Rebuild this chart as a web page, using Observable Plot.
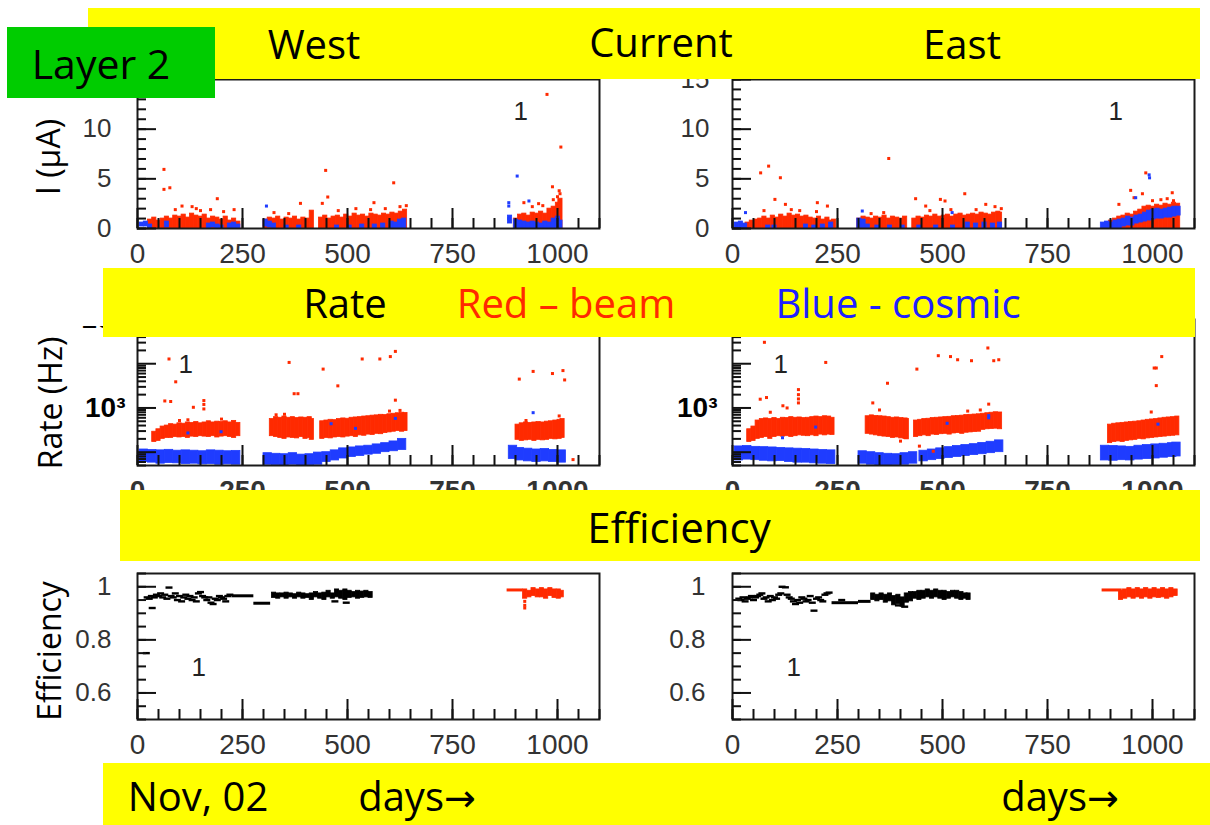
<!DOCTYPE html>
<html><head><meta charset="utf-8">
<script src="https://cdn.jsdelivr.net/npm/d3@7"></script>
<script src="https://cdn.jsdelivr.net/npm/@observablehq/plot@0.6"></script>
<style>
body{margin:0;background:#fff;}
#page{position:relative;width:1210px;height:825px;overflow:hidden;background:#fff;font-family:"Open Sans","Noto Sans",sans-serif;}
.banner{position:absolute;background:#ffff00;z-index:2;}
.t{position:absolute;transform:translate(-50%,-50%);white-space:nowrap;line-height:1;font-size:40px;color:#000;z-index:4;}
.arr{font-family:"DejaVu Sans",sans-serif;font-size:38px;}
.ylab{position:absolute;transform:translate(-50%,-50%) rotate(-90deg);white-space:nowrap;line-height:1;font-size:32px;color:#000;}
</style></head><body><div id="page">
<div class="banner" style="left:88px;top:8px;width:1112px;height:71px"></div>
<div class="banner" style="left:7px;top:27px;width:208px;height:71px;background:#00cc00;z-index:3"></div>
<div class="banner" style="left:103px;top:268px;width:1092px;height:69px"></div>
<div class="banner" style="left:120px;top:490px;width:1080px;height:71px"></div>
<div class="banner" style="left:103px;top:763px;width:1107px;height:62px"></div>
<div style="position:absolute;left:0;top:296px;width:103px;height:30px;background:#fff;z-index:1"></div>
<div class="t" style="left:101px;top:63px;font-size:41px">Layer 2</div>
<div class="t" style="left:314px;top:44px">West</div>
<div class="t" style="left:661px;top:42px">Current</div>
<div class="t" style="left:962px;top:44px">East</div>
<div class="t" style="left:345px;top:303px">Rate</div>
<div class="t" style="left:566px;top:303px;color:#ff2a00">Red – beam</div>
<div class="t" style="left:898px;top:303px;color:#2020ff">Blue - cosmic</div>
<div class="t" style="left:679px;top:527px;font-size:42px">Efficiency</div>
<div class="t" style="left:198px;top:796px">Nov, 02</div>
<div class="t" style="left:417px;top:796px">days<span class="arr">→</span></div>
<div class="t" style="left:1060px;top:796px">days<span class="arr">→</span></div>
<div class="ylab" style="left:48px;top:157px">I (μA)</div>
<div class="ylab" style="left:50px;top:403px">Rate (Hz)</div>
<div class="ylab" style="left:49px;top:651px">Efficiency</div>
</div>
<script>
// ---------- tick labels ----------
const xMajor = [0, 250, 500, 750, 1000];
const xTickText = ["0", "250", "500", "750", "1000"];
const curWestYLabels = [0, 5, 10];
const curEastYLabels = [0, 5, 10, 15];
const curYText = ["0", "5", "10", "15"];
const rateYLabels = [1000, 100000];
const rateYText = ["10³", "10⁵"];
const effYLabels = [0.6, 0.8, 1];
const effYText = ["0.6", "0.8", "1"];

// ---------- Current West: [day, I] red band (10-day bins), blue [day, lo, hi] ----------
const curWestRed = [[25,0.9],[35,1.1],[45,0.8],[55,1.0],[65,1.2],[75,1.0],[85,1.3],[95,1.2],[105,1.4],[115,1.1],[125,1.5],[135,1.3],[145,1.2],[155,1.4],[165,1.0],[175,1.2],[185,1.1],[195,0.9],[205,1.2],[215,0.8],[225,1.0],[235,0.7],
[300,0.9],[310,1.1],[320,1.0],[330,1.2],[340,0.9],[350,1.1],[360,1.0],[370,1.2],[380,0.9],[390,1.1],[400,1.0],[410,1.8],
[432,1.1],[442,1.3],[452,1.0],[462,1.2],[472,1.3],[482,1.1],[492,1.4],[502,1.2],[512,1.5],[522,1.3],[532,1.4],[542,1.2],[552,1.5],[562,1.4],[572,1.3],[582,1.5],[592,1.4],[602,1.6],[612,1.5],[622,1.7],[632,1.9],
[896,1.0],[906,1.4],[916,1.5],[926,1.3],[936,1.6],[946,1.5],[956,1.7],[966,1.5],[976,2.0],[986,2.2],[996,2.6],[1002,3.0]];
const curWestBlue = [[5,0.2,0.6],[15,0.2,0.7],[25,0,0.4],[65,0.1,0.7],[165,0,0.5],[175,0.1,0.6],[185,0,0.4],[195,0,0.3],[215,0,0.5],[225,0,0.6],[235,0,0.4],
[300,0.2,0.9],[310,0.1,0.7],[320,0,0.5],[350,0,0.3],[380,0,0.3],[470,0,0.3],[500,0,0.3],[530,0,0.4],[560,0,0.4],[580,0,0.5],[600,0,0.7],[610,0,0.6],[620,0,0.9],[630,0,1.0],
[882,0.5,1.3],[896,0,0.9],[906,0,0.8],[916,0,0.7],[926,0,0.6],[936,0,0.7],[946,0,0.6],[956,0,0.5],[966,0,0.7],[976,0,0.6],[986,0,1.0],[996,0,1.2],[1002,0,0.8]];
const curWestRedPts = [[63,5.95],[63,3.94],[77,4.1],[106,2.26],[130,2.2],[190,3.0],[174,1.9],[388,2.53],[440,2.53],[448,5.85],[453,3.17],[563,2.6],[610,4.6],[920,2.6],[988,4.2],[1004,3.8],[1006,3.5],[975,13.5],[1008,8.2],
[90,1.9],[140,2.0],[150,1.8],[205,1.7],[230,1.9],[325,1.6],[360,1.5],[478,1.8],[520,2.0],[555,1.9],[590,2.0],[625,2.2],[640,2.3],[940,2.2],[955,2.5],[965,2.3],[990,2.9],[1000,3.2]];
const curWestBluePts = [[904,5.28],[884,2.6],[884,2.26],[932,2.77],[307,2.26],[884,1.0]];

// ---------- Current East ----------
const curEastRed = [[31,0.6],[41,0.8],[51,0.9],[61,1.0],[71,1.2],[81,1.0],[91,1.3],[101,1.1],[111,1.4],[121,1.2],[131,1.5],[141,1.3],[151,1.4],[161,1.2],[171,1.3],[181,1.1],[191,1.0],[201,1.2],[211,0.9],[221,1.1],[231,0.8],[237,0.9],
[297,1.0],[307,1.2],[317,1.1],[327,1.0],[337,1.2],[347,1.1],[357,1.3],[367,1.0],[377,1.2],[387,1.1],[397,1.0],[406,1.2],
[428,1.0],[438,1.2],[448,1.1],[458,1.3],[468,1.2],[478,1.4],[488,1.2],[498,1.3],[508,1.4],[518,1.2],[528,1.4],[538,1.5],[548,1.3],[558,1.4],[568,1.5],[578,1.4],[588,1.6],[598,1.5],[608,1.4],[618,1.6],[628,1.7],[632,1.6],
[896,0.8],[906,1.0],[916,1.2],[926,1.3],[936,1.5],[946,1.4],[956,1.7],[966,1.9],[976,2.2],[986,2.3],[996,2.2],[1006,2.4],[1016,2.3],[1026,2.5],[1036,2.4],[1046,2.6],[1056,2.5]];
const curEastBlue = [[5,0,0.6],[15,0,0.7],[25,0,0.5],[80,0,0.3],[95,0,0.3],[170,0,0.4],[190,0,0.3],[210,0,0.4],[230,0,0.6],[297,0,1.0],[307,0,0.9],[317,0,0.4],[340,0,0.3],[370,0,0.3],[400,0,0.3],[440,0,0.3],[480,0,0.3],[520,0,0.3],[555,0,0.6],[575,0,0.5],[595,0,0.6],[615,0,0.5],[632,0,0.6],
[877,0,0.6],[887,0,0.7],[897,0,0.6],[907,0,0.8],[917,0,0.9],[927,0.2,1.0],[937,0.3,1.2],[947,0.3,1.1],[957,0.5,1.3],[967,0.6,1.4],[977,0.7,1.6],[987,0.8,1.8],[997,0.9,1.9],[1007,1.0,2.0],[1017,1.0,1.9],[1027,1.1,2.0],[1037,1.1,2.1],[1047,1.2,2.2],[1057,1.3,2.2]];
const curEastRedPts = [[67,5.6],[86,6.28],[114,5.11],[101,2.93],[126,2.43],[202,2.6],[226,2.26],[372,7.05],[436,3.0],[495,2.93],[506,2.77],[553,3.5],[460,2.26],[603,2.43],[984,5.6],[976,3.5],[956,3.1],[948,3.84],[1047,3.6],[920,2.43],
[75,1.8],[140,1.9],[160,1.8],[200,1.7],[330,1.5],[360,1.6],[470,1.8],[520,1.9],[580,1.9],[625,2.2],[640,2.0],[1000,2.8],[1020,2.9],[1035,3.0],[1050,2.8]];
const curEastBluePts = [[992,5.4],[993,5.1],[31,1.6],[309,1.76],[960,3.1],[523,1.6]];

// ---------- Rate West (Hz): [day, lo, hi] ----------
const rateWestRed = [[35,170,290],[45,180,330],[55,200,380],[65,210,400],[75,210,430],[85,220,420],[95,215,450],[105,220,440],[115,210,470],[125,225,460],[135,220,480],[145,230,450],[155,225,470],[165,220,500],[175,230,470],[185,215,490],[195,225,480],[205,230,500],[215,220,470],[225,210,510],[235,230,460],
[315,230,560],[325,220,620],[335,210,600],[345,200,640],[355,215,600],[365,210,620],[375,205,590],[385,220,610],[395,200,600],[405,210,620],[410,190,560],
[435,200,500],[445,210,520],[455,205,540],[465,215,530],[475,220,560],[485,215,580],[495,225,570],[505,230,600],[515,220,610],[525,240,620],[535,235,640],[545,250,650],[555,245,670],[565,260,680],[575,255,700],[585,270,690],[595,280,720],[605,290,740],[615,300,760],[625,290,780],[633,300,770],
[900,190,420],[910,180,450],[920,185,470],[930,190,460],[940,180,470],[950,190,480],[960,185,470],[970,190,490],[980,200,500],[990,195,520],[1000,200,540],[1007,210,560]];
const rateWestBlue = [[5,60,115],[25,58,112],[45,55,110],[65,57,113],[85,56,108],[105,54,110],[125,55,108],[145,53,105],[165,54,110],[185,52,108],[205,53,105],[225,52,107],
[300,52,95],[320,51,92],[340,50,90],[360,52,95],[380,50,88],[400,51,90],[420,52,98],
[440,60,100],[460,65,110],[480,72,122],[500,78,128],[520,82,135],[540,88,140],[560,92,150],[580,100,160],[600,105,175],[620,112,200],
[884,70,140],[900,65,125],[920,62,120],[940,60,115],[960,62,118],[980,60,112],[1000,58,110]];
const rateWestRedPts = [[75,12800],[91,3900],[65,1440],[79,1400],[133,1035],[158,1470],[158,1200],[158,950],[361,10700],[373,2100],[382,2100],[442,7560],[477,3160],[535,12800],[577,12800],[602,14500],[614,19000],[614,1500],[909,4490],[942,6700],[988,6000],[1013,7000],[1017,4300],[1037,68],[1004,660],[925,520],
[100,520],[120,540],[200,560],[330,700],[350,720],[600,850],[625,880]];
const rateWestBluePts = [[942,782],[614,580],[519,345],[461,440],[199,290],[120,272]];

// ---------- Rate East ----------
const rateEastRed = [[35,170,330],[45,180,380],[55,200,520],[65,210,560],[75,220,580],[85,200,560],[95,220,590],[105,230,560],[115,225,600],[125,230,590],[135,220,620],[145,230,600],[155,240,610],[165,235,590],[175,230,600],[185,240,620],[195,230,640],[205,250,620],[215,240,650],[225,250,640],[233,245,600],
[317,260,650],[327,250,680],[337,240,660],[347,230,650],[357,225,640],[367,220,620],[377,210,600],[387,215,610],[397,205,590],[407,200,580],[410,195,560],
[432,220,520],[442,230,540],[452,240,560],[462,230,570],[472,250,590],[482,245,600],[492,255,610],[502,260,620],[512,250,630],[522,265,650],[532,270,660],[542,260,670],[552,275,690],[562,280,700],[572,285,710],[582,290,720],[592,320,740],[602,330,760],[612,335,780],[622,340,800],[632,330,790],
[894,160,420],[904,170,440],[914,175,450],[924,170,460],[934,180,470],[944,185,480],[954,190,490],[964,200,500],[974,195,520],[984,205,540],[994,210,550],[1004,215,560],[1014,220,580],[1024,225,600],[1034,230,610],[1044,235,620],[1054,240,640]];
const rateEastBlue = [[5,65,135],[25,68,138],[45,66,132],[65,64,130],[85,62,128],[105,63,125],[125,60,122],[145,58,120],[165,58,118],[185,56,115],[205,55,112],[225,54,110],
[300,55,105],[320,52,100],[340,50,95],[360,50,92],[380,51,90],[400,52,95],[420,55,100],
[445,62,108],[465,66,115],[485,70,122],[505,74,130],[525,78,138],[545,82,145],[565,86,152],[585,90,162],[605,95,172],[625,100,185],
[877,65,140],[897,64,138],[917,66,135],[937,65,132],[957,68,140],[977,70,145],[997,72,150],[1017,75,155],[1037,78,160],[1047,80,165]];
const rateEastRedPts = [[76,30500],[222,10700],[66,1577],[81,1720],[157,2600],[157,2000],[157,1600],[157,1300],[120,1120],[369,3620],[334,1300],[439,7560],[490,15200],[519,14500],[536,12300],[569,11700],[608,22700],[622,11700],[634,12300],[610,1220],[1022,14500],[1009,8000],[1004,8000],[1009,3200],[997,810],[445,137],[478,105],[400,178],
[130,1000],[90,800],[350,900],[560,850],[590,900]];
const rateEastBluePts = [[119,212],[198,370],[511,450],[610,670],[1013,430],[610,600]];

// ---------- Efficiency ----------
const effWestBlackPts = [[23,0.96],[28,0.955],[33,0.965],[35,0.92],[40,0.96],[45,0.97],[50,0.965],[55,0.975],[60,0.96],[65,0.97],[70,0.955],[75,0.997],[80,0.965],[85,0.96],[90,0.975],[95,0.95],[100,0.965],[105,0.945],[110,0.96],[115,0.97],[120,0.955],[125,0.965],[130,0.95],[135,0.96],[140,0.945],[145,0.975],[150,0.98],[155,0.965],[160,0.96],[165,0.95],[170,0.96],[175,0.94],[180,0.935],[185,0.955],[190,0.95],[195,0.965],[200,0.96],[205,0.955],[210,0.945],[215,0.965],[220,0.97],[21,0.75],[470,0.945],[497,0.94]];
const effWestBlackLines = [[225,277,0.966],[277,317,0.938]];
const effWestBlackBand = [[320,0.958,0.978],[330,0.955,0.975],[340,0.96,0.975],[350,0.955,0.978],[360,0.96,0.975],[370,0.955,0.972],[380,0.96,0.978],[390,0.955,0.975],[400,0.958,0.972],[410,0.95,0.975],[420,0.96,0.98],[430,0.955,0.975],[440,0.95,0.978],[450,0.96,0.985],[460,0.955,0.975],[470,0.96,0.99],[480,0.955,0.985],[490,0.95,0.99],[500,0.958,0.985],[510,0.96,0.98],[520,0.955,0.985],[530,0.958,0.982],[540,0.96,0.985],[550,0.958,0.98]];
const effWestRedLines = [[880,918,0.988]];
const effWestRedBand = [[918,0.955,0.99],[928,0.96,0.985],[938,0.965,0.995],[948,0.96,0.99],[958,0.96,0.995],[968,0.955,0.99],[978,0.965,0.995],[988,0.958,0.99],[998,0.955,0.99],[1005,0.96,0.985]];
const effWestRedPts = [[922,0.93],[922,0.92],[922,0.945]];

const effEastBlackPts = [[15,0.955],[20,0.95],[25,0.96],[30,0.945],[35,0.955],[40,0.96],[45,0.965],[50,0.95],[55,0.96],[60,0.965],[65,0.97],[70,0.975],[75,0.955],[80,0.96],[85,0.945],[90,0.965],[95,0.95],[100,0.96],[105,0.955],[110,0.97],[115,0.975],[118,1.0],[126,0.998],[130,0.97],[135,0.96],[140,0.955],[145,0.945],[150,0.935],[155,0.95],[160,0.94],[165,0.96],[170,0.955],[175,0.945],[180,0.95],[185,0.965],[190,0.94],[194,0.91],[200,0.955],[205,0.96],[210,0.95],[215,0.945],[220,0.97],[225,0.975],[230,0.978],[260,0.95],[410,0.925],[395,0.93]];
const effEastBlackLines = [[237,300,0.94],[300,330,0.945]];
const effEastBlackBand = [[330,0.95,0.975],[340,0.945,0.97],[350,0.95,0.975],[360,0.94,0.97],[370,0.945,0.975],[380,0.93,0.965],[390,0.935,0.97],[400,0.925,0.96],[410,0.94,0.975],[420,0.945,0.98],[430,0.955,0.98],[440,0.95,0.985],[450,0.955,0.985],[460,0.96,0.99],[470,0.955,0.985],[480,0.96,0.99],[490,0.955,0.985],[500,0.95,0.985],[510,0.955,0.98],[520,0.96,0.985],[530,0.955,0.985],[540,0.95,0.98],[550,0.955,0.975],[557,0.95,0.975]];
const effEastRedLines = [[880,928,0.988]];
const effEastRedBand = [[920,0.95,0.985],[930,0.955,0.99],[940,0.96,0.995],[950,0.955,0.99],[960,0.96,0.995],[970,0.955,0.99],[980,0.96,0.995],[990,0.955,0.99],[1000,0.96,0.995],[1010,0.958,0.99],[1020,0.96,0.995],[1030,0.955,0.99],[1040,0.96,0.995],[1050,0.965,0.99]];

// ---------- drawing ----------
const RED = "#ff2a00", BLUE = "#1f3cff", BLACK = "#000";
const TICK_FONT = "'Liberation Sans', Arial, sans-serif";
const page = document.getElementById("page");
const xMinor = d3.range(0, 1101, 50);
const dash = {draw(ctx) { ctx.moveTo(-3.5, -1.2); ctx.lineTo(3.5, -1.2); ctx.lineTo(3.5, 1.2); ctx.lineTo(-3.5, 1.2); ctx.closePath(); }};

const band = (data, w, fill) => Plot.rect(data, {x1: d => d[0], x2: d => d[0] + w, y1: d => d[1], y2: d => d[2], fill, stroke: fill, strokeWidth: 0.8});
const band0 = (data, w, fill) => Plot.rect(data, {x1: d => d[0], x2: d => d[0] + w, y1: 0, y2: d => d[1], fill, stroke: fill, strokeWidth: 0.8});
const pts = (data, fill) => Plot.dot(data, {x: d => d[0], y: d => d[1], symbol: "square", r: 1.7, fill});
const dashes = (data, fill) => Plot.dot(data, {x: d => d[0], y: d => d[1], symbol: dash, r: 2, fill});
const hlines = (data, stroke) => Plot.ruleY(data, {x1: d => d[0], x2: d => d[1], y: d => d[2], stroke, strokeWidth: 3});

function panel(cfg) {
  const W = 610, frameW = 462;
  const fw = cfg.bold ? "bold" : "normal";
  const chart = Plot.plot({
    width: W,
    height: cfg.mTop + cfg.frameH + cfg.mBottom,
    marginLeft: cfg.mLeft, marginRight: W - cfg.mLeft - frameW,
    marginTop: cfg.mTop, marginBottom: cfg.mBottom,
    x: {domain: [0, 1100]},
    y: {type: cfg.yType || "linear", domain: cfg.yDomain},
    style: {background: "transparent", overflow: "visible", fontFamily: TICK_FONT, color: "#111"},
    marks: [
      ...cfg.marks,
      Plot.frame({stroke: "#1a1a1a", strokeWidth: 2}),
      Plot.axisX({ticks: xMinor, tickSize: -10, fill: "none", strokeWidth: 2, label: null}),
      Plot.axisX({ticks: xMajor, tickSize: -20, fill: "none", strokeWidth: 2, label: null}),
      Plot.axisX({ticks: xMajor, tickSize: 0, tickPadding: 15, tickFormat: d => xTickText[xMajor.indexOf(d)], fontSize: 28, fontWeight: fw, fill: "#333", label: null}),
      Plot.axisY({ticks: cfg.yMinor, tickSize: -9, fill: "none", strokeWidth: 2, label: null}),
      Plot.axisY({ticks: cfg.yMajor, tickSize: -19, fill: "none", strokeWidth: 2, label: null}),
      Plot.axisY({ticks: cfg.yLabelVals, tickSize: 0, tickPadding: cfg.yPad, tickFormat: d => cfg.yLabelText[cfg.yLabelVals.indexOf(d)], fontSize: cfg.yFont, fontWeight: fw, fill: cfg.bold ? "#000" : "#333", label: null}),
      Plot.text(["1"], {text: d => d, frameAnchor: "top-left", dx: cfg.tagDx, dy: cfg.tagDy, fontSize: 26, fill: "#222"})
    ]
  });
  chart.style.position = "absolute";
  chart.style.left = cfg.left + "px";
  chart.style.top = cfg.top + "px";
  page.appendChild(chart);
}

const curMinor = d3.range(0, 16, 1);
const effMinor = d3.range(0.5, 1.051, 0.05).map(v => +v.toFixed(2));
const rateMinor = [50,60,70,80,90,200,300,400,500,600,700,800,900,2000,3000,4000,5000,6000,7000,8000,9000,20000,30000,40000,50000,60000,70000,80000,90000];

// Current
const curBase = {top: 70, mTop: 9, frameH: 149, mBottom: 42, yDomain: [0, 15], yMinor: curMinor, yMajor: [0, 5, 10, 15], yLabelText: curYText, yFont: 26, tagDx: 376, tagDy: 22};
panel({...curBase, left: 0, mLeft: 137, yPad: 26, yLabelVals: curWestYLabels, marks: [band0(curWestRed, 10, RED), pts(curWestRedPts, RED), band(curWestBlue, 10, BLUE), pts(curWestBluePts, BLUE)]});
panel({...curBase, left: 600, mLeft: 132, yPad: 23, yLabelVals: curEastYLabels, marks: [band0(curEastRed, 10, RED), pts(curEastRedPts, RED), band(curEastBlue, 10, BLUE), pts(curEastBluePts, BLUE)]});

// Rate
const rateBase = {top: 300, mTop: 19, frameH: 146, mBottom: 32, yType: "log", yDomain: [50, 100000], yMinor: rateMinor, yMajor: [100, 1000, 10000], yLabelVals: rateYLabels, yLabelText: rateYText, yFont: 28, bold: true, tagDx: 41, tagDy: 35};
panel({...rateBase, left: 0, mLeft: 137, yPad: 12, marks: [band(rateWestBlue, 20, BLUE), band(rateWestRed, 10, RED), pts(rateWestRedPts, RED), pts(rateWestBluePts, BLUE)]});
panel({...rateBase, left: 600, mLeft: 132, yPad: 15, marks: [band(rateEastBlue, 20, BLUE), band(rateEastRed, 10, RED), pts(rateEastRedPts, RED), pts(rateEastBluePts, BLUE)]});

// Efficiency
const effBase = {top: 563, mTop: 10, frameH: 146, mBottom: 44, yDomain: [0.5, 1.05], yMinor: effMinor, yMajor: [0.6, 0.8, 1], yLabelVals: effYLabels, yLabelText: effYText, yFont: 26, tagDx: 54, tagDy: 84};
panel({...effBase, left: 0, mLeft: 137, yPad: 26, marks: [dashes(effWestBlackPts, BLACK), hlines(effWestBlackLines, BLACK), band(effWestBlackBand, 10, BLACK), hlines(effWestRedLines, RED), band(effWestRedBand, 10, RED), pts(effWestRedPts, RED)]});
panel({...effBase, left: 600, mLeft: 132, yPad: 27, marks: [dashes(effEastBlackPts, BLACK), hlines(effEastBlackLines, BLACK), band(effEastBlackBand, 10, BLACK), hlines(effEastRedLines, RED), band(effEastRedBand, 10, RED)]});
</script>
</body></html>
